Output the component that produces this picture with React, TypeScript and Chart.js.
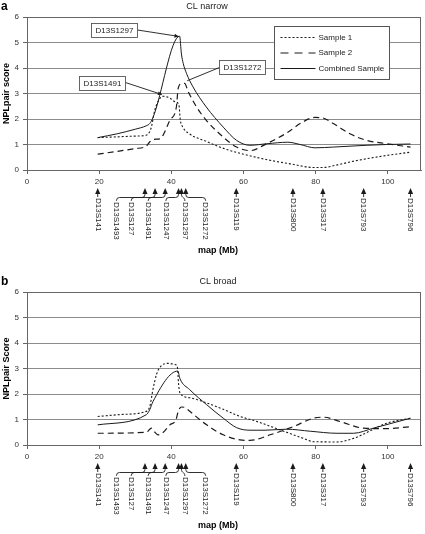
import React, { useEffect, useRef } from "react";
import { Chart, registerables } from "chart.js";

Chart.register(...registerables);
Chart.defaults.font.family = "'Liberation Sans', Arial, sans-serif";

// ---------- data ----------
const xTickValues = [0, 20, 40, 60, 80, 100];
const yTickValues = [0, 1, 2, 3, 4, 5, 6];
const seriesNames = ["Sample 1", "Sample 2", "Combined Sample"];

const markerNames = [
  "D13S141", "D13S1493", "D13S127", "D13S1491", "D13S1247", "D13S1297",
  "D13S1272", "D13S119", "D13S800", "D13S317", "D13S793", "D13S796",
];
const markerMb = [19.6, 32.7, 35.5, 38.3, 42.0, 42.8, 44.0, 58.0, 73.7, 82.0, 93.3, 106.3];

// CL narrow
const narrowSample1: [number, number][] = [
  [19.6, 1.27], [25, 1.3], [30, 1.33], [33, 1.36], [34, 1.5], [34.5, 1.7], [35.4, 2.34],
  [36.8, 2.8], [37.7, 2.89], [39.6, 2.82], [41, 2.68], [42.1, 2.55], [42.5, 1.95],
  [43.1, 1.7], [45, 1.42], [49.7, 1.12], [55, 0.82], [60, 0.62], [66, 0.42], [73, 0.24],
  [79.5, 0.1], [82, 0.1], [86, 0.2], [91, 0.36], [99.7, 0.57], [106.3, 0.7],
];
const narrowSample2: [number, number][] = [
  [19.6, 0.62], [25, 0.73], [30, 0.84], [33, 0.93], [34, 1.1], [34.9, 1.2], [36.8, 1.22],
  [37.7, 1.36], [39.6, 1.95], [41.4, 2.47], [41.9, 3.2], [42.8, 3.39], [43.7, 3.4],
  [44.6, 3.1], [47, 2.47], [49.7, 1.95], [54.4, 1.29], [58.1, 0.9], [61.8, 0.76],
  [66.4, 1.03], [72.4, 1.49], [75.7, 1.82], [79.8, 2.06], [81.7, 2.05], [84.9, 1.82],
  [89.5, 1.42], [94.2, 1.16], [99.7, 1.03], [106.3, 0.9],
];
const narrowCombined: [number, number][] = [
  [19.6, 1.27], [25, 1.42], [30, 1.6], [33, 1.73], [34, 1.82], [34.9, 2.05], [42.3, 5.25],
  [42.8, 4.55], [43.3, 4.18], [44.2, 3.79], [46, 3.26], [49.7, 2.47], [54.4, 1.68],
  [58.1, 1.16], [61.8, 0.97], [66.5, 1.03], [72.3, 1.09], [75.7, 1.0], [79.8, 0.87],
  [85, 0.9], [94.2, 0.97], [99.7, 1.0], [106.3, 1.02],
];

// CL broad
const broadSample1: [number, number][] = [
  [19.6, 1.12], [26.6, 1.2], [32.6, 1.3], [34, 1.5], [34.9, 2.17], [35.9, 2.77],
  [37.3, 3.12], [39.1, 3.2], [41, 3.16], [41.7, 3.03], [42, 2.4], [42.4, 2.04],
  [45.1, 1.85], [49.8, 1.65], [54.4, 1.4], [59, 1.12], [62.7, 0.97], [70, 0.6],
  [76.6, 0.26], [79.4, 0.13], [85.9, 0.12], [90.5, 0.26], [99.8, 0.86], [106.3, 1.05],
];
const broadSample2: [number, number][] = [
  [19.6, 0.46], [33.1, 0.5], [34.5, 0.66], [35.3, 0.52], [36.3, 0.4], [37.7, 0.49],
  [39.6, 0.79], [41.3, 0.99], [41.9, 1.32], [42.8, 1.49], [43.8, 1.47], [45.1, 1.32],
  [49.8, 0.79], [54.4, 0.4], [59, 0.2], [61.8, 0.18], [67.4, 0.4], [73.8, 0.72],
  [79.4, 1.05], [82.2, 1.09], [86.8, 0.92], [93.3, 0.66], [99.8, 0.64], [106.3, 0.72],
];
const broadCombined: [number, number][] = [
  [19.6, 0.79], [33.1, 1.19], [34, 1.38], [34.9, 1.7], [41.8, 2.9], [42.4, 2.6],
  [45.1, 2.17], [49.8, 1.58], [54.4, 1.05], [58.1, 0.68], [61.8, 0.58], [66, 0.58],
  [72, 0.62], [78.5, 0.54], [85.9, 0.46], [90.5, 0.46], [96, 0.66], [106.3, 1.05],
];

// ---------- layout / style ----------
const W = 425;
const AREA_TOP = 17;
const AREA_BOTTOM = 170;
const Y_AXIS_W = 27;
const RIGHT_PAD = 4;
const X_MAX = 109.2;
// label positions (Mb) for the clustered markers; null = label under its arrow
const markerLabelAt: (number | null)[] = [null, 24.8, 28.9, 33.6, 38.5, 43.75, 49.5, null, null, null, null, null];
const lineStyles = [
  { dash: [2, 2], width: 1.1 },
  { dash: [6, 4], width: 1.2 },
  { dash: [] as number[], width: 1 },
];
const INK = "#1a1a1a";

type Callout = { text: string; at: [number, number]; box: [number, number]; arrow: boolean };
const narrowCallouts: Callout[] = [
  { text: "D13S1297", at: [42.0, 5.24], box: [24.1, 5.49], arrow: true },
  { text: "D13S1491", at: [37.4, 2.96], box: [20.8, 3.43], arrow: true },
  { text: "D13S1272", at: [44.4, 3.5], box: [59.6, 4.02], arrow: false },
];

type PanelCfg = {
  top: number; height: number; letter: string; title: string; titleX: number;
  yTitle: string; series: [number, number][][]; legend: boolean; callouts: Callout[];
};

const panels: PanelCfg[] = [
  { top: 0, height: 275, letter: "a", title: "CL narrow", titleX: 207, yTitle: "NPLpair score",
    series: [narrowSample1, narrowSample2, narrowCombined], legend: true, callouts: narrowCallouts },
  { top: 275, height: 259, letter: "b", title: "CL broad", titleX: 218, yTitle: "NPLpair Score",
    series: [broadSample1, broadSample2, broadCombined], legend: false, callouts: [] },
];

function arrowHead(ctx: CanvasRenderingContext2D, fx: number, fy: number, tx: number, ty: number, size: number) {
  const a = Math.atan2(ty - fy, tx - fx);
  ctx.beginPath();
  ctx.moveTo(tx, ty);
  ctx.lineTo(tx - size * Math.cos(a - 0.45), ty - size * Math.sin(a - 0.45));
  ctx.lineTo(tx - size * Math.cos(a + 0.45), ty - size * Math.sin(a + 0.45));
  ctx.closePath();
  ctx.fill();
}

function makeDecor(cfg: PanelCfg) {
  return {
    id: "decor" + cfg.letter,
    afterDraw(chart: any) {
      const ctx: CanvasRenderingContext2D = chart.ctx;
      const xs = chart.scales.x;
      const ys = chart.scales.y;
      const ca = chart.chartArea;
      ctx.save();

      // plot frame (top + right)
      ctx.strokeStyle = "#666";
      ctx.lineWidth = 1;
      ctx.beginPath();
      const L = Math.round(ca.left) + 0.5, R = Math.round(ca.right) - 0.5, T = Math.round(ca.top) + 0.5;
      ctx.moveTo(L, T); ctx.lineTo(R, T); ctx.lineTo(R, Math.round(ca.bottom));
      ctx.stroke();

      // letter, title, axis titles
      ctx.fillStyle = "#000";
      ctx.font = "bold 12px 'Liberation Sans', Arial, sans-serif";
      ctx.textAlign = "left";
      ctx.textBaseline = "alphabetic";
      ctx.fillText(cfg.letter, 1, 10);

      ctx.fillStyle = "#222";
      ctx.font = "9px 'Liberation Sans', Arial, sans-serif";
      ctx.textAlign = "center";
      ctx.textBaseline = "middle";
      ctx.fillText(cfg.title, cfg.titleX, 7);

      ctx.fillStyle = "#000";
      ctx.font = "bold 9px 'Liberation Sans', Arial, sans-serif";
      ctx.fillText("map (Mb)", 218, ca.bottom + 81);
      ctx.save();
      ctx.translate(7, (ca.top + ca.bottom) / 2);
      ctx.rotate(-Math.PI / 2);
      ctx.fillText(cfg.yTitle, 0, 0);
      ctx.restore();

      // markers
      const tipY = ca.bottom + 18;
      const baseY = tipY + 6;
      const ym = tipY + 9.5;
      ctx.strokeStyle = INK;
      ctx.fillStyle = INK;
      ctx.lineWidth = 0.9;
      ctx.font = "8px 'Liberation Sans', Arial, sans-serif";
      markerMb.forEach((mb, i) => {
        const ax = xs.getPixelForValue(mb);
        ctx.beginPath();
        ctx.moveTo(ax, tipY);
        ctx.lineTo(ax - 2.6, baseY);
        ctx.lineTo(ax + 2.6, baseY);
        ctx.closePath();
        ctx.fill();
        const la = markerLabelAt[i];
        let lx = ax;
        let textTop = tipY + 10;
        ctx.beginPath();
        if (la === null) {
          ctx.moveTo(ax, baseY);
          ctx.lineTo(ax, tipY + 9);
        } else {
          lx = xs.getPixelForValue(la);
          textTop = tipY + 14;
          const r = 3;
          const d = lx - ax;
          ctx.moveTo(ax, baseY);
          if (Math.abs(d) < 2 * r + 1) {
            ctx.bezierCurveTo(ax, ym + 1, lx, ym - 1, lx, textTop - 1);
          } else {
            const s = Math.sign(d);
            ctx.lineTo(ax, ym - r);
            ctx.quadraticCurveTo(ax, ym, ax + s * r, ym);
            ctx.lineTo(lx - s * r, ym);
            ctx.quadraticCurveTo(lx, ym, lx, ym + r);
            ctx.lineTo(lx, textTop - 1);
          }
        }
        ctx.stroke();
        ctx.save();
        ctx.translate(lx, textTop);
        ctx.rotate(Math.PI / 2);
        ctx.textAlign = "left";
        ctx.textBaseline = "middle";
        ctx.fillStyle = "#222";
        ctx.fillText(markerNames[i], 0, 0);
        ctx.restore();
      });

      // callouts
      cfg.callouts.forEach((c) => {
        const bx = xs.getPixelForValue(c.box[0]);
        const by = ys.getPixelForValue(c.box[1]);
        const tx = xs.getPixelForValue(c.at[0]);
        const ty = ys.getPixelForValue(c.at[1]);
        const bw = 46, bh = 14;
        const left = Math.round(bx - bw / 2) + 0.5, top = Math.round(by - bh / 2) + 0.5;
        const sx = tx > bx ? left + bw : left;
        ctx.strokeStyle = INK;
        ctx.fillStyle = INK;
        ctx.lineWidth = 0.9;
        ctx.beginPath();
        ctx.moveTo(sx, by);
        ctx.lineTo(tx, ty);
        ctx.stroke();
        if (c.arrow) arrowHead(ctx, sx, by, tx, ty, 4.5);
        ctx.fillStyle = "#fff";
        ctx.fillRect(left, top, bw, bh);
        ctx.strokeStyle = "#555";
        ctx.strokeRect(left, top, bw, bh);
        ctx.fillStyle = "#222";
        ctx.font = "8px 'Liberation Sans', Arial, sans-serif";
        ctx.textAlign = "center";
        ctx.textBaseline = "middle";
        ctx.fillText(c.text, left + bw / 2, top + bh / 2 + 0.5);
      });

      // legend
      if (cfg.legend) {
        const lx = Math.round(ca.right) - 147 + 0.5;
        const ly = Math.round(ca.top) + 9 + 0.5;
        ctx.fillStyle = "#fff";
        ctx.fillRect(lx, ly, 115, 53);
        ctx.strokeStyle = "#555";
        ctx.lineWidth = 1;
        ctx.setLineDash([]);
        ctx.strokeRect(lx, ly, 115, 53);
        seriesNames.forEach((name, i) => {
          const yy = ly + 11 + i * 15.5;
          ctx.strokeStyle = INK;
          ctx.lineWidth = lineStyles[i].width;
          ctx.setLineDash(i === 1 ? [8, 6] : lineStyles[i].dash);
          ctx.beginPath();
          ctx.moveTo(lx + 6, yy);
          ctx.lineTo(lx + 41, yy);
          ctx.stroke();
          ctx.setLineDash([]);
          ctx.fillStyle = "#222";
          ctx.font = "8px 'Liberation Sans', Arial, sans-serif";
          ctx.textAlign = "left";
          ctx.textBaseline = "middle";
          ctx.fillText(name, lx + 44, yy);
        });
      }
      ctx.restore();
    },
  };
}

function Panel({ cfg }: { cfg: PanelCfg }) {
  const ref = useRef<HTMLCanvasElement | null>(null);
  useEffect(() => {
    if (!ref.current) return;
    const chart = new Chart(ref.current, {
      type: "line",
      data: {
        datasets: cfg.series.map((pts, i) => ({
          label: seriesNames[i],
          data: pts.map(([x, y]) => ({ x, y })),
          borderColor: INK,
          borderWidth: lineStyles[i].width,
          borderDash: lineStyles[i].dash,
          pointRadius: 0,
          fill: false,
          cubicInterpolationMode: "monotone" as const,
        })),
      },
      options: {
        responsive: false,
        animation: false,
        devicePixelRatio: 1,
        layout: { padding: { top: AREA_TOP, right: RIGHT_PAD, left: 0, bottom: 0 } },
        plugins: { legend: { display: false }, tooltip: { enabled: false }, title: { display: false } },
        scales: {
          x: {
            type: "linear",
            min: 0,
            max: X_MAX,
            afterFit: (s: any) => { s.height = cfg.height - AREA_BOTTOM; },
            ticks: {
              stepSize: 20,
              includeBounds: false,
              maxRotation: 0,
              autoSkip: false,
              padding: 3,
              color: "#333",
              font: { size: 8 },
              callback: (v: any) => (xTickValues.includes(Number(v)) ? String(v) : ""),
            },
            grid: { drawOnChartArea: false, drawTicks: true, tickLength: 4, tickColor: "#666" },
            border: { display: true, color: "#666" },
          },
          y: {
            min: 0,
            max: 6,
            afterFit: (s: any) => { s.width = Y_AXIS_W; },
            ticks: {
              stepSize: 1,
              padding: 4,
              color: "#333",
              font: { size: 8 },
              callback: (v: any) => (yTickValues.includes(Number(v)) ? String(v) : ""),
            },
            grid: { color: "#8c8c8c", tickLength: 4, tickColor: "#666" },
            border: { display: true, color: "#666" },
          },
        },
      },
      plugins: [makeDecor(cfg)],
    } as any);
    return () => chart.destroy();
  }, [cfg]);
  return (
    <canvas
      ref={ref}
      width={W}
      height={cfg.height}
      style={{ position: "absolute", left: 0, top: cfg.top, width: W, height: cfg.height }}
    />
  );
}

export default function App() {
  return (
    <div style={{ position: "absolute", left: 0, top: 0, width: W, height: 534, background: "#fff" }}>
      {panels.map((p) => (
        <Panel key={p.letter} cfg={p} />
      ))}
    </div>
  );
}
